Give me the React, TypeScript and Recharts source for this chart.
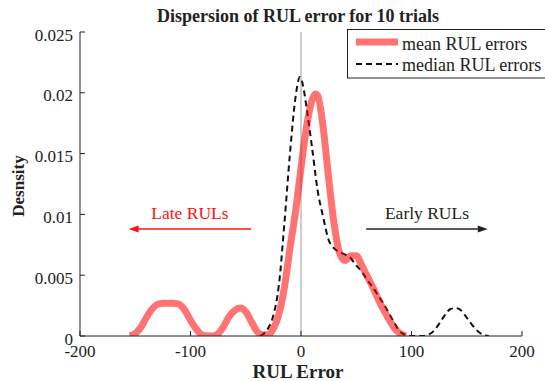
import { Label, Line, LineChart, ReferenceLine, XAxis, YAxis } from "recharts";

const FONT = '"Liberation Serif", "Times New Roman", Times, serif';
const INK = "#222";

const xTicks = [-200, -100, 0, 100, 200];
const yTicks = [0, 0.005, 0.01, 0.015, 0.02, 0.025];

// kernel density of the mean RUL error over the 10 trials
const meanX = [
  -155, -150, -145, -140, -135, -130, -125, -120, -115, -110, -105, -100, -95,
  -90, -85, -80, -75, -70, -65, -60, -55, -50, -45, -40, -35, -30, -25, -20,
  -15, -10, -5, 0, 5, 10, 13, 15, 20, 25, 30, 35, 40, 45, 50, 55, 60, 65, 70,
  75, 80, 85, 90, 95,
];
const meanY = [
  0, 0.0002, 0.0007, 0.0015, 0.0022, 0.0026, 0.0027, 0.0027, 0.0027, 0.0026,
  0.0021, 0.0013, 0.0006, 0.0001, 0, 0, 0.0002, 0.0008, 0.0016, 0.0021, 0.0023,
  0.002, 0.0012, 0.0004, 0.0001, 0.0001, 0.0006, 0.0018, 0.004, 0.0072, 0.0102,
  0.0138, 0.0172, 0.0194, 0.0199, 0.0198, 0.0172, 0.013, 0.0092, 0.0068,
  0.0062, 0.0066, 0.0066, 0.0058, 0.0049, 0.004, 0.003, 0.0021, 0.0013, 0.0006,
  0.0002, 0,
];

// same for the median RUL error
const medianX = [
  -37, -35, -30, -25, -20, -15, -10, -5, -1, 0, 3, 5, 10, 15, 20, 25, 30, 35,
  40, 45, 50, 55, 60, 65, 70, 75, 80, 85, 90, 95, 100, 110, 115, 120, 125, 130,
  135, 140, 145, 150, 155, 160, 165, 170,
];
const medianY = [
  0, 0.0001, 0.0006, 0.0017, 0.0042, 0.0093, 0.015, 0.0196, 0.0213, 0.0212,
  0.02, 0.0188, 0.0155, 0.012, 0.0098, 0.0079, 0.0072, 0.0069, 0.0067, 0.0064,
  0.0058, 0.0053, 0.0046, 0.004, 0.0033, 0.0026, 0.0018, 0.001, 0.0003, 0.0001,
  0, 0, 0.0001, 0.0004, 0.001, 0.0017, 0.0022, 0.0023, 0.0021, 0.0015, 0.0009,
  0.0004, 0.0001, 0,
];

const meanData = meanX.map((x, i) => ({ x, y: meanY[i] }));
const medianData = medianX.map((x, i) => ({ x, y: medianY[i] }));

const textStyle = { fontFamily: FONT, fontSize: 17, fill: INK };
const legendText = { fontFamily: FONT, fontSize: 18, fill: INK };

const LeftTick = ({ x, y, payload }: any) => (
  <text x={x} y={y} dy={8.5} textAnchor="end" {...textStyle}>
    {String(payload.value)}
  </text>
);

const BottomTick = ({ x, y, payload }: any) => (
  <text x={x} y={y} dy={20.5} textAnchor="middle" {...textStyle}>
    {String(payload.value)}
  </text>
);

// annotated arrow drawn along a ReferenceLine segment, head at the second point
function arrow(color: string, text: string) {
  return (props: any) => {
    const { x1, y1, x2, y2 } = props;
    const dir = Math.sign(x2 - x1);
    const head = 10;
    return (
      <g>
        <line
          x1={x1}
          y1={y1}
          x2={x2 - dir * head}
          y2={y2}
          stroke={color}
          strokeWidth={1.5}
        />
        <polygon
          points={`${x2},${y2} ${x2 - dir * head},${y2 - 3.5} ${x2 - dir * head},${y2 + 3.5}`}
          fill={color}
        />
        <text
          x={(x1 + x2) / 2}
          y={y1 - 10}
          textAnchor="middle"
          fontFamily={FONT}
          fontSize={17.5}
          fill={color}
        >
          {text}
        </text>
      </g>
    );
  };
}

export default function App() {
  return (
    <div
      style={{
        position: "fixed",
        left: 0,
        top: 0,
        width: 545,
        height: 381,
        background: "#fff",
      }}
    >
      <LineChart
        width={545}
        height={381}
        margin={{ top: 32, right: 23, bottom: 0, left: 0 }}
      >
        <XAxis
          type="number"
          dataKey="x"
          domain={[-200, 200]}
          ticks={xTicks}
          interval={0}
          allowDataOverflow
          height={45}
          stroke={INK}
          tickSize={-5}
          tickMargin={5}
          tick={<BottomTick />}
        >
          <Label
            content={({ viewBox }: any) => (
              <text
                x={viewBox.x + viewBox.width / 2 - 3}
                y={viewBox.y + viewBox.height - 3}
                textAnchor="middle"
                fontFamily={FONT}
                fontSize={19}
                fontWeight="bold"
                fill={INK}
              >
                RUL Error
              </text>
            )}
          />
        </XAxis>
        <XAxis
          xAxisId="top"
          orientation="top"
          type="number"
          dataKey="x"
          domain={[-200, 200]}
          ticks={xTicks}
          interval={0}
          height={0}
          stroke={INK}
          tickSize={-5}
          tick={false}
        />
        <YAxis
          type="number"
          domain={[0, 0.025]}
          ticks={yTicks}
          interval={0}
          allowDataOverflow
          width={80}
          stroke={INK}
          tickSize={-5}
          tickMargin={12}
          tick={<LeftTick />}
        >
          <Label
            content={({ viewBox }: any) => {
              const cx = viewBox.x + 18;
              const cy = viewBox.y + viewBox.height / 2 + 2;
              return (
                <text
                  x={cx}
                  y={cy}
                  dy={6}
                  transform={`rotate(-90 ${cx} ${cy})`}
                  textAnchor="middle"
                  fontFamily={FONT}
                  fontSize={17}
                  fontWeight="bold"
                  fill={INK}
                >
                  Desnsity
                </text>
              );
            }}
          />
        </YAxis>
        <YAxis
          yAxisId="right"
          orientation="right"
          type="number"
          domain={[0, 0.025]}
          ticks={yTicks}
          interval={0}
          width={0}
          stroke={INK}
          tickSize={-5}
          tick={false}
        />

        <ReferenceLine x={0} stroke="#bdbdbd" strokeWidth={1.5} />

        <ReferenceLine
          segment={[
            { x: -45, y: 0.0088 },
            { x: -156, y: 0.0088 },
          ]}
          shape={arrow("#ff1010", "Late RULs")}
        />
        <ReferenceLine
          segment={[
            { x: 59, y: 0.0088 },
            { x: 169, y: 0.0088 },
          ]}
          shape={arrow(INK, "Early RULs")}
        />

        <Line
          data={medianData}
          dataKey="y"
          type="monotone"
          stroke="#111"
          strokeWidth={2}
          strokeDasharray="6 4"
          dot={false}
          activeDot={false}
          isAnimationActive={false}
        />
        <Line
          data={meanData}
          dataKey="y"
          type="monotone"
          stroke="#ff0000"
          strokeOpacity={0.55}
          strokeWidth={7}
          dot={false}
          activeDot={false}
          isAnimationActive={false}
        />
      </LineChart>

      {/* title and legend box laid over the chart */}
      <svg
        width={545}
        height={381}
        style={{ position: "absolute", left: 0, top: 0, pointerEvents: "none" }}
      >
        <text
          x={298}
          y={22}
          textAnchor="middle"
          fontFamily={FONT}
          fontSize={18}
          fontWeight="bold"
          fill={INK}
        >
          Dispersion of RUL error for 10 trials
        </text>
        <rect
          x={347.5}
          y={29.5}
          width={200}
          height={48.5}
          fill="#fff"
          stroke={INK}
          strokeWidth={1}
        />
        <line
          x1={356}
          y1={42}
          x2={398}
          y2={42}
          stroke="#ff0000"
          strokeOpacity={0.55}
          strokeWidth={7}
        />
        <text x={402} y={50} {...legendText}>
          mean RUL errors
        </text>
        <line
          x1={356}
          y1={64}
          x2={398}
          y2={64}
          stroke="#111"
          strokeWidth={2}
          strokeDasharray="6 4"
        />
        <text x={402} y={71} {...legendText}>
          median RUL errors
        </text>
      </svg>
    </div>
  );
}
